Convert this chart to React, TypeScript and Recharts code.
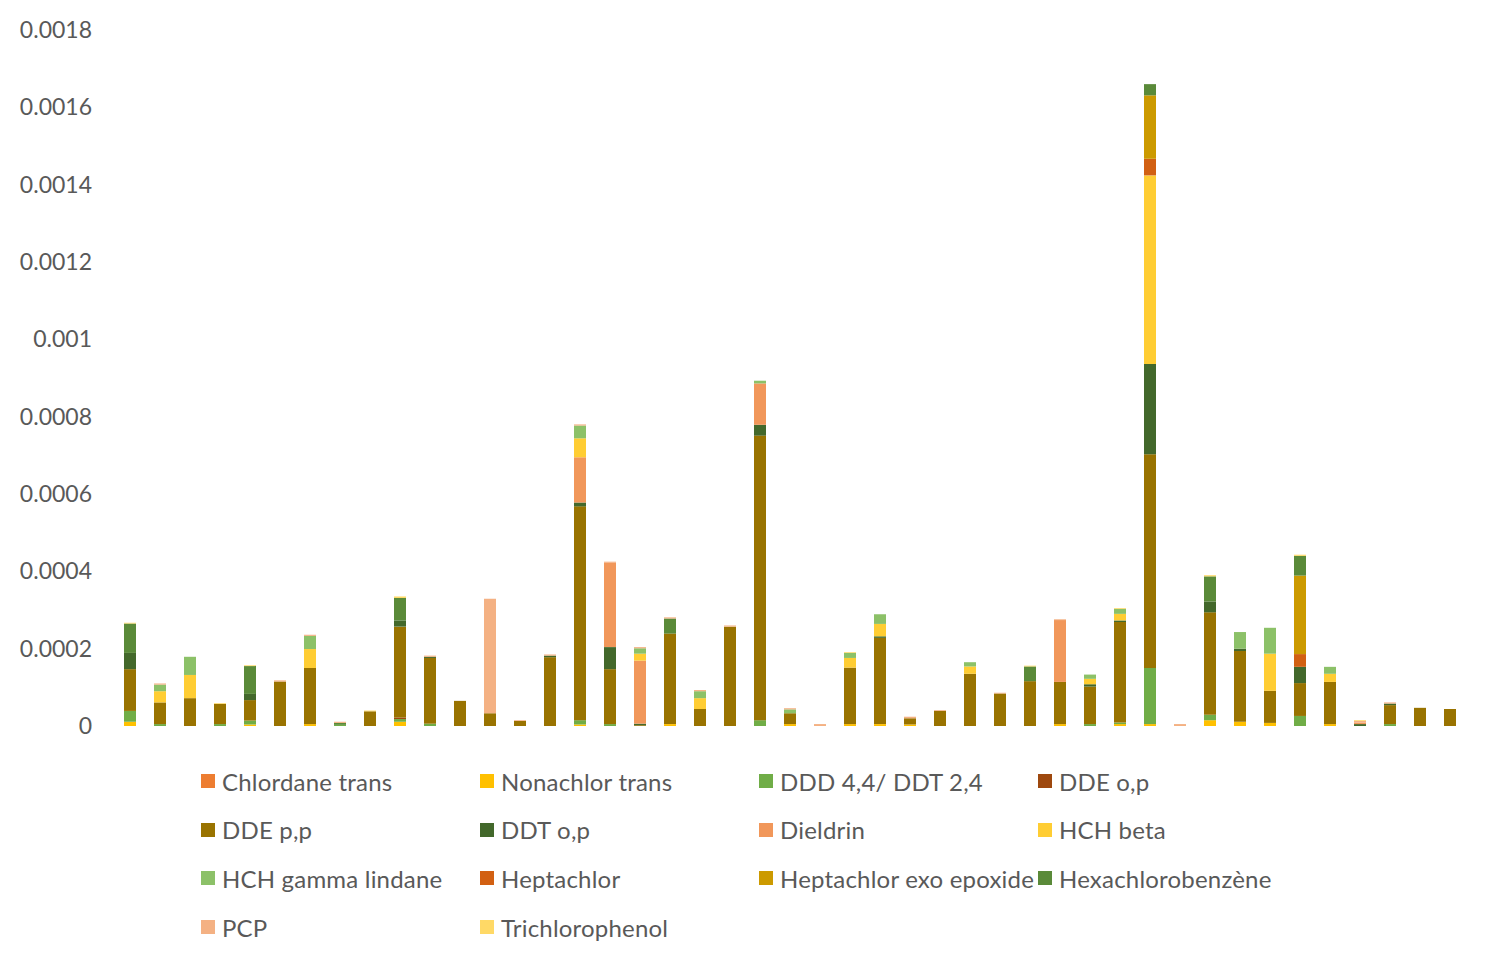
import React from 'react'
import { BarChart, Bar, XAxis, YAxis } from 'recharts'

// 45 samples, values in millionths (x 1e-6)
const samples = Array.from({ length: 45 }, (_, i) => `S${i + 1}`)

const chlordaneTrans = [0,0,0,0,0,0,0,0,0,0, 0,0,0,0,0,0,0,0,0,0, 0,0,0,0,0,0,0,0,0,0, 0,0,0,0,0,0,0,0,0,0, 0,0,0,0,0]
const nonachlorTrans = [11,0,0,0,4,0,5,0,0,11, 0,0,0,0,0,4,0,0,5,0, 0,0,5,0,5,5,4,0,0,0, 0,5,0,5,5,0,15,11,8,0, 5,0,0,0,0]
const ddd44 = [28,5,0,5,10,0,0,3,0,7, 6,0,0,0,0,11,5,0,0,0, 0,15,0,0,0,0,0,0,0,0, 0,0,5,4,145,0,14,0,0,26, 0,0,5,0,0]
const ddeOp = [0,0,0,0,0,0,0,0,0,4, 0,0,0,0,0,0,0,0,0,0, 0,0,0,0,0,0,0,0,0,0, 0,0,0,0,0,0,0,0,0,0, 0,0,0,0,0]
const ddePp = [108,56,72,52,53,115,145,0,38,235, 170,65,33,13,178,553,142,2,234,44, 257,736,28,0,146,223,16,39,135,84, 116,109,97,260,553,0,265,183,83,85, 109,0,49,47,44]
const ddtOp = [42,0,0,0,16,0,0,0,0,16, 3,0,0,0,4,10,57,4,0,0, 0,28,0,0,0,4,0,0,0,0, 0,0,6,4,233,0,28,6,0,42, 0,5,4,0,0]
const dieldrin = [0,0,0,0,0,0,0,0,0,0, 0,0,0,0,0,117,218,163,0,0, 0,107,0,0,0,0,0,0,0,0, 0,160,0,0,0,0,0,0,0,0, 0,4,0,0,0]
const hchBeta = [0,29,60,0,0,0,49,0,0,0, 0,0,0,0,0,49,0,18,0,28, 0,0,0,0,25,32,0,0,19,0, 0,0,14,17,488,0,0,0,96,0, 21,0,0,0,0]
const hchGamma = [0,17,47,0,0,0,34,0,0,0, 0,0,0,0,0,33,0,14,0,18, 0,7,10,0,13,25,0,0,11,0, 0,0,11,13,0,0,0,43,67,0, 18,0,0,0,0]
const heptachlor = [0,0,0,0,0,0,0,0,0,0, 0,0,0,0,0,0,0,0,0,0, 0,0,0,0,0,0,0,0,0,0, 0,0,0,0,43,0,0,0,0,33, 0,0,0,0,0]
const heptachlorEpox = [0,0,0,0,0,0,0,0,0,0, 0,0,0,0,0,0,0,0,0,0, 0,0,0,0,0,0,0,0,0,0, 0,0,0,0,164,0,0,0,0,203, 0,0,0,0,0]
const hexachlorobenzene = [76,0,0,0,72,0,0,5,0,58, 0,0,0,0,0,0,0,0,39,0, 0,0,0,0,0,0,0,0,0,0, 38,0,0,0,29,0,65,0,0,51, 0,0,0,0,0]
const pcp = [0,3,0,0,0,3,3,3,0,0, 3,0,296,2,3,3,3,3,3,3, 3,0,3,5,0,0,4,2,0,2, 0,2,0,0,0,5,0,0,0,0, 0,4,3,0,0]
const trichlorophenol = [2,0,0,2,2,0,0,0,2,4, 0,0,0,0,0,0,0,0,0,0, 0,0,0,0,2,0,0,0,0,0, 2,0,0,2,0,0,3,0,0,3, 0,2,0,0,0]

const yTicks = [0, 0.0002, 0.0004, 0.0006, 0.0008, 0.001, 0.0012, 0.0014, 0.0016, 0.0018]

const series = [
  { key: 'Chlordane trans', values: chlordaneTrans, color: '#ED7D31' },
  { key: 'Nonachlor trans', values: nonachlorTrans, color: '#FFC000' },
  { key: 'DDD 4,4/ DDT 2,4', values: ddd44, color: '#70AD47' },
  { key: 'DDE o,p', values: ddeOp, color: '#9E480E' },
  { key: 'DDE p,p', values: ddePp, color: '#997300' },
  { key: 'DDT o,p', values: ddtOp, color: '#43682B' },
  { key: 'Dieldrin', values: dieldrin, color: '#F1975A' },
  { key: 'HCH beta', values: hchBeta, color: '#FFCD33' },
  { key: 'HCH gamma lindane', values: hchGamma, color: '#8CC168' },
  { key: 'Heptachlor', values: heptachlor, color: '#D26012' },
  { key: 'Heptachlor exo epoxide', values: heptachlorEpox, color: '#CC9A00' },
  { key: 'Hexachlorobenzène', values: hexachlorobenzene, color: '#5A8A39' },
  { key: 'PCP', values: pcp, color: '#F4B183' },
  { key: 'Trichlorophenol', values: trichlorophenol, color: '#FFD966' },
]

const data = samples.map((name, i) => {
  const row: Record<string, number | string> = { name }
  series.forEach(s => { row[s.key] = s.values[i] * 1e-6 })
  return row
})

const textColor = '#595959'
const font = 'Lato, "Open Sans", sans-serif'

export default function App() {
  return (
    <div style={{ position: 'absolute', left: 0, top: 0, width: 1500, height: 967, background: '#fff', fontFamily: font }}>
      <BarChart width={1500} height={967} data={data} margin={{ top: 30, right: 35, bottom: 241, left: 0 }}>
        <XAxis dataKey="name" hide />
        <YAxis
          width={115}
          domain={[0, 0.0018]}
          ticks={yTicks}
          axisLine={false}
          tickLine={false}
          tickSize={0}
          tickMargin={23}
          interval={0}
          tick={{ fill: textColor, fontSize: 23, fontFamily: font }}
        />
        {series.map(s => (
          <Bar key={s.key} dataKey={s.key} stackId="a" fill={s.color} barSize={12} isAnimationActive={false} />
        ))}
      </BarChart>
      {/* legend, 4 columns */}
      {series.map((s, i) => {
        const col = i % 4
        const row = Math.floor(i / 4)
        return (
          <div key={s.key} style={{ position: 'absolute', left: 201 + col * 279, top: 781 + row * 48.7 - 14, height: 28, display: 'flex', alignItems: 'center', whiteSpace: 'nowrap' }}>
            <span style={{ width: 14, height: 14, background: s.color, display: 'inline-block', marginRight: 7 }} />
            <span style={{ fontSize: 24, color: textColor, letterSpacing: 0.2 }}>{s.key}</span>
          </div>
        )
      })}
    </div>
  )
}
